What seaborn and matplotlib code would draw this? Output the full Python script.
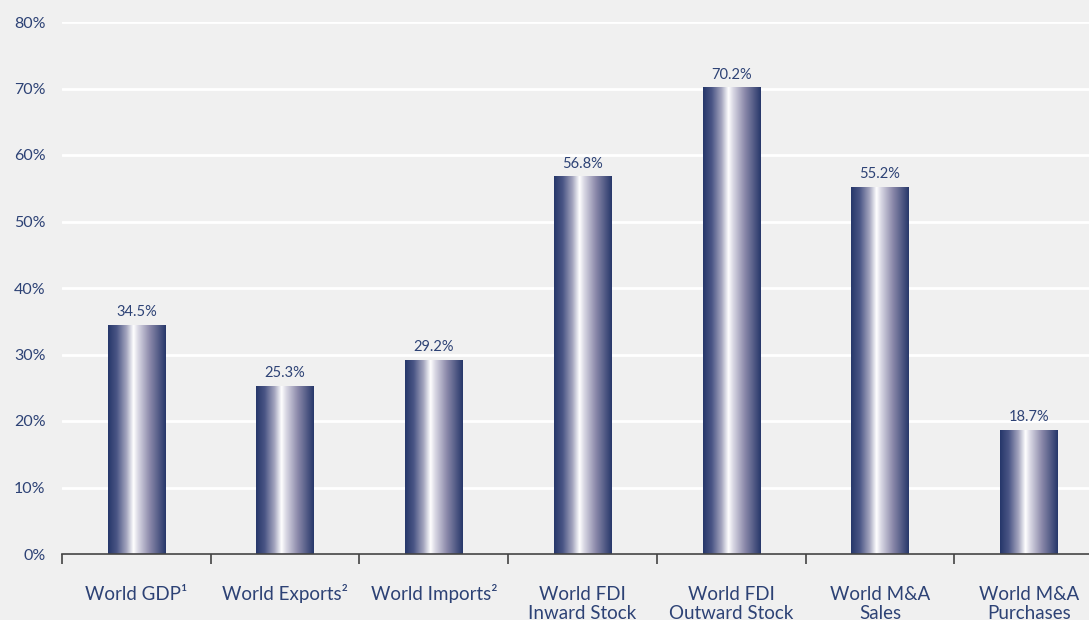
import numpy as np
import pandas as pd
import matplotlib
matplotlib.use("Agg")
import matplotlib.pyplot as plt
import seaborn as sns
from matplotlib.colors import LinearSegmentedColormap

categories = ["World GDP\u00b9", "World Exports\u00b2", "World Imports\u00b2",
              "World FDI\nInward Stock", "World FDI\nOutward Stock",
              "World M&A\nSales", "World M&A\nPurchases"]
values = [34.5, 25.3, 29.2, 56.8, 70.2, 55.2, 18.7]
value_labels = ["34.5%", "25.3%", "29.2%", "56.8%", "70.2%", "55.2%", "18.7%"]
yticks = [0, 10, 20, 30, 40, 50, 60, 70, 80]
ytick_labels = ["0%", "10%", "20%", "30%", "40%", "50%", "60%", "70%", "80%"]

navy = "#2d4275"
bg = "#f0f0f0"

sns.set_theme(style="white")
plt.rcParams["font.family"] = ["Lato", "DejaVu Sans"]

fig = plt.figure(figsize=(10.89, 6.2), dpi=100, facecolor=bg)
ax = fig.add_axes([62/1089, 1-554/620, 1041/1089, (554-22)/620])
ax.set_facecolor(bg)

df = pd.DataFrame({"cat": categories, "val": values})
sns.barplot(data=df, x="cat", y="val", ax=ax, width=0.385, color=navy, zorder=3)

cmap = LinearSegmentedColormap.from_list("bargrad", [
    (0.0, "#26376a"), (0.15, "#4a5585"), (0.32, "#a5a6bf"), (0.44, "#ffffff"),
    (0.52, "#d9d8e4"), (0.72, "#8c8aab"), (1.0, "#27376a")])
grad = np.linspace(0, 1, 256).reshape(1, -1)
for p in ax.patches:
    x0, y0 = p.get_x(), p.get_y()
    w, h = p.get_width(), p.get_height()
    im = ax.imshow(grad, cmap=cmap, aspect="auto", extent=(x0, x0 + w, y0, y0 + h),
                   zorder=3, interpolation="bilinear")
    im.set_clip_path(p)
    p.set_facecolor("none")
    p.set_edgecolor("none")

ax.bar_label(ax.containers[0], labels=value_labels, padding=4, color=navy, fontsize=10.5)

ax.set_xlim(-0.5, len(categories) - 0.5)
ax.set_ylim(0, 80)
ax.set_yticks(yticks)
ax.set_yticklabels(ytick_labels)
ax.grid(axis="y", color="white", linewidth=2, zorder=0)
ax.set_axisbelow(True)
ax.set_xlabel("")
ax.set_ylabel("")
for s in ["top", "right", "left"]:
    ax.spines[s].set_visible(False)
ax.spines["bottom"].set_color("#444444")
ax.spines["bottom"].set_linewidth(1.2)
ax.spines["bottom"].set_zorder(5)

ax.set_xticks(range(len(categories)))
ax.set_xticklabels([c if "\n" in c else c + "\n " for c in categories])
ax.tick_params(axis="y", length=0, pad=12, labelsize=11.5, labelcolor=navy)
ax.set_xticks(np.arange(-0.5, len(categories) + 0.5, 1), minor=True)
ax.tick_params(axis="x", which="major", bottom=True, length=0, pad=47, labelsize=13.5, labelcolor=navy)
ax.tick_params(axis="x", which="minor", bottom=True, length=7, width=1.2, color="#444444", direction="out")
for lbl in ax.get_xticklabels():
    lbl.set_linespacing(1.15)
    lbl.set_verticalalignment("baseline")

fig.savefig("out.png", dpi=100, facecolor=bg)
